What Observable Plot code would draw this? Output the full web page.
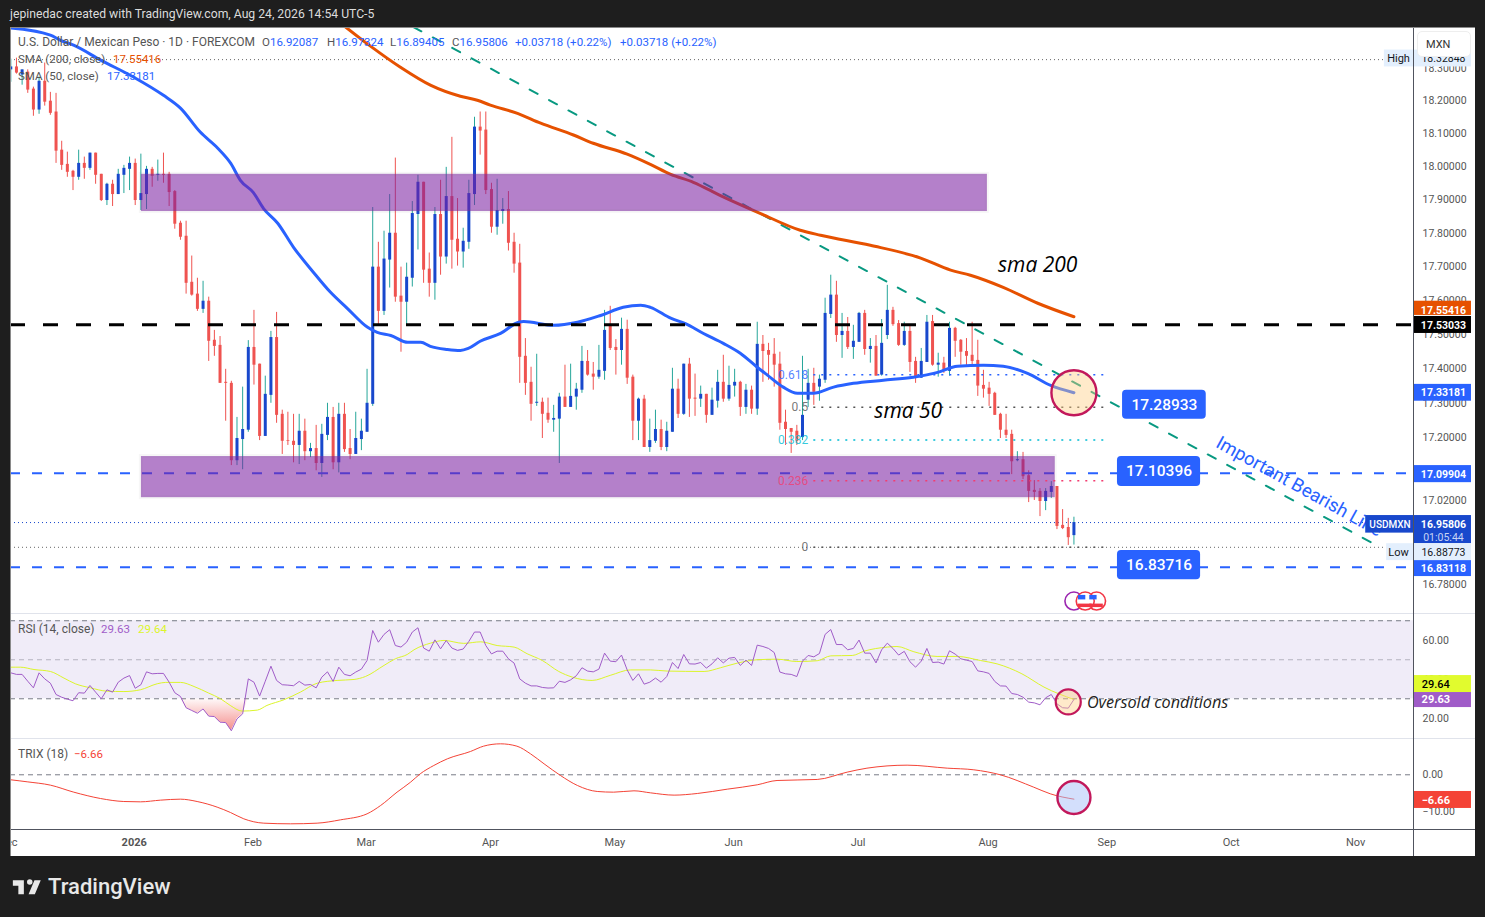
<!DOCTYPE html>
<html><head><meta charset="utf-8">
<script src="https://cdn.jsdelivr.net/npm/d3@7"></script>
<script src="https://cdn.jsdelivr.net/npm/@observablehq/plot@0.6"></script>
<style>
html,body{margin:0;padding:0;background:#1e1e1e;width:1485px;height:917px;overflow:hidden;font-family:Roboto,sans-serif}
#panel{position:absolute;left:10px;top:27px;width:1465px;height:829px;background:#fff}
svg{position:absolute;left:0}
.t{position:absolute;white-space:nowrap;font-size:11.5px;line-height:14px;color:#555}
.v{color:#2962ff}
.line{position:absolute;background:#e0e3eb}
</style></head><body>
<div id="panel"></div>
<div id="host"></div>
<script>
const rising = ("BRBRRBRRRR"+"RRBRBRRBRB"+"BBRBBRBRRR"+"RRRRBRRRRR"+"BBBRRBBRRR"+"RBRBRBBRBR"+"RBBBBRBBRR"+"BBBRRBRBRR"+"BBBRRRBBRR"+"RRRBRRBBRB"+"BBRRBBRRBR"+"RBRBBRBBRB"+"RRBRBBRBBR"+"BRBRRRRRRR"+"BBRBBBRBRB"+"BRBRBBRRBR"+"RBBRBRBRRR"+"RRRRRRRRBR"+"RRRBBRRRB").split("");
const bodyTops = [18.306,18.306,18.297,18.290,18.238,18.262,18.262,18.201,18.168,18.052,
18.009,17.988,18.012,18.012,18.043,18.043,17.979,17.949,17.949,17.979,
17.997,18.012,18.012,17.921,17.994,17.994,17.979,17.979,17.979,17.927,
17.832,17.793,17.656,17.621,17.600,17.600,17.485,17.470,17.362,17.359,
17.199,17.225,17.464,17.464,17.415,17.327,17.493,17.493,17.269,17.193,
17.191,17.220,17.220,17.170,17.170,17.211,17.260,17.260,17.269,17.269,
17.170,17.199,17.220,17.301,17.701,17.701,17.725,17.802,17.802,17.615,
17.671,17.861,17.955,17.955,17.695,17.858,17.858,17.912,17.912,17.784,
17.778,17.921,18.122,18.122,18.113,17.933,17.870,17.873,17.873,17.775,
17.713,17.438,17.362,17.304,17.304,17.272,17.257,17.319,17.319,17.321,
17.342,17.423,17.423,17.386,17.397,17.514,17.529,17.464,17.517,17.517,
17.377,17.313,17.313,17.193,17.225,17.225,17.220,17.342,17.342,17.415,
17.415,17.316,17.327,17.327,17.310,17.362,17.362,17.353,17.362,17.362,
17.339,17.339,17.473,17.473,17.455,17.444,17.415,17.246,17.228,17.220,
17.266,17.359,17.359,17.371,17.564,17.618,17.618,17.511,17.511,17.482,
17.564,17.564,17.467,17.467,17.476,17.573,17.573,17.534,17.511,17.511,
17.423,17.423,17.538,17.540,17.418,17.418,17.520,17.520,17.485,17.452,
17.441,17.426,17.353,17.345,17.330,17.269,17.223,17.211,17.138,17.138,
17.092,17.050,17.047,17.047,17.061,17.061,16.950,16.944,16.95806];
const bodyBottoms = [18.297,18.287,18.281,18.235,18.174,18.174,18.198,18.164,18.049,18.006,
17.985,17.970,17.970,17.997,17.997,17.976,17.900,17.900,17.918,17.918,
17.976,17.994,17.900,17.900,17.918,17.973,17.976,17.976,17.924,17.829,
17.790,17.653,17.618,17.576,17.576,17.482,17.467,17.359,17.359,17.135,
17.135,17.196,17.223,17.412,17.205,17.205,17.324,17.266,17.191,17.191,
17.179,17.179,17.161,17.161,17.127,17.127,17.208,17.129,17.129,17.167,
17.153,17.153,17.196,17.217,17.298,17.570,17.570,17.722,17.612,17.597,
17.597,17.668,17.858,17.692,17.653,17.653,17.731,17.731,17.781,17.746,
17.746,17.775,17.918,18.110,17.930,17.820,17.820,17.867,17.772,17.710,
17.435,17.359,17.298,17.301,17.269,17.252,17.252,17.255,17.289,17.289,
17.319,17.339,17.383,17.377,17.377,17.394,17.461,17.455,17.455,17.374,
17.249,17.249,17.173,17.173,17.191,17.173,17.173,17.217,17.269,17.269,
17.313,17.313,17.313,17.266,17.266,17.307,17.313,17.313,17.351,17.289,
17.289,17.284,17.284,17.452,17.441,17.412,17.243,17.225,17.217,17.191,
17.202,17.310,17.333,17.348,17.368,17.561,17.499,17.499,17.464,17.464,
17.479,17.458,17.458,17.380,17.383,17.499,17.531,17.470,17.470,17.420,
17.377,17.374,17.420,17.412,17.412,17.394,17.394,17.482,17.450,17.438,
17.423,17.351,17.342,17.327,17.266,17.223,17.208,17.132,17.135,17.089,
17.047,17.044,17.018,17.018,17.044,16.947,16.941,16.915,16.92087];
const highs = [18.330,18.333,18.297,18.297,18.244,18.275,18.318,18.228,18.225,18.079,
18.046,17.991,18.052,18.031,18.043,18.043,17.979,17.952,17.961,17.994,
18.006,18.031,18.025,18.040,18.003,18.000,18.022,18.043,17.985,17.930,
17.838,17.838,17.734,17.668,17.659,17.612,17.514,17.496,17.400,17.365,
17.260,17.348,17.484,17.573,17.415,17.380,17.511,17.567,17.281,17.275,
17.269,17.269,17.255,17.185,17.237,17.240,17.301,17.289,17.301,17.301,
17.225,17.275,17.255,17.400,17.879,17.775,17.808,17.918,18.028,17.701,
17.713,17.897,17.976,17.955,17.743,17.879,17.961,18.000,18.091,17.906,
17.817,17.961,18.152,18.168,18.168,17.952,17.964,17.906,17.927,17.802,
17.769,17.490,17.406,17.444,17.316,17.316,17.295,17.330,17.412,17.415,
17.359,17.467,17.455,17.420,17.470,17.573,17.585,17.487,17.550,17.544,
17.383,17.316,17.324,17.255,17.281,17.252,17.246,17.403,17.371,17.415,
17.432,17.386,17.351,17.327,17.345,17.397,17.441,17.409,17.400,17.365,
17.356,17.351,17.538,17.499,17.476,17.490,17.450,17.281,17.228,17.237,
17.438,17.400,17.403,17.383,17.609,17.677,17.659,17.564,17.552,17.529,
17.567,17.573,17.490,17.499,17.546,17.647,17.582,17.543,17.538,17.529,
17.435,17.461,17.558,17.558,17.447,17.435,17.538,17.523,17.487,17.490,
17.538,17.485,17.397,17.362,17.333,17.272,17.269,17.223,17.161,17.159,
17.106,17.078,17.055,17.055,17.075,17.061,16.995,16.970,16.97324];
const lows = [18.259,18.284,18.250,18.225,18.155,18.161,18.186,18.158,18.012,17.991,
17.970,17.930,17.961,17.964,17.991,17.949,17.897,17.885,17.882,17.918,
17.921,17.930,17.885,17.870,17.873,17.940,17.958,17.952,17.882,17.814,
17.781,17.621,17.615,17.570,17.564,17.423,17.438,17.359,17.249,17.121,
17.121,17.109,17.217,17.354,17.193,17.205,17.301,17.243,17.153,17.179,
17.129,17.124,17.135,17.144,17.106,17.087,17.193,17.109,17.100,17.159,
17.138,17.153,17.164,17.217,17.292,17.531,17.558,17.639,17.597,17.450,
17.531,17.642,17.752,17.653,17.612,17.603,17.677,17.710,17.695,17.704,
17.698,17.754,17.885,18.037,17.918,17.802,17.796,17.829,17.749,17.683,
17.359,17.324,17.249,17.292,17.199,17.243,17.217,17.127,17.289,17.289,
17.281,17.330,17.380,17.339,17.371,17.368,17.455,17.383,17.412,17.356,
17.193,17.193,17.173,17.159,17.185,17.164,17.161,17.217,17.257,17.266,
17.260,17.263,17.289,17.243,17.266,17.287,17.304,17.307,17.319,17.263,
17.269,17.269,17.266,17.362,17.368,17.348,17.223,17.179,17.156,17.179,
17.193,17.289,17.295,17.307,17.359,17.549,17.479,17.432,17.458,17.429,
17.479,17.441,17.418,17.380,17.380,17.487,17.526,17.467,17.467,17.391,
17.359,17.374,17.420,17.409,17.377,17.388,17.380,17.435,17.412,17.406,
17.412,17.321,17.316,17.292,17.266,17.199,17.199,17.095,17.132,17.081,
17.015,17.021,16.975,16.992,17.027,16.938,16.938,16.893,16.89405];

const sma50Bars = [0,7,8.8,11.1,15.9,21.7,27,30,33.5,36.6,38.9,40.6,42.9,44.7,47.2,50,53.5,56.5,59.5,63.1,64.8,67.2,70.2,72.5,74.2,77.2,79.5,80.9,83,86.6,89.8,90.7,96,100.2,104.3,108.3,111.4,113.1,116.7,119.3,122.5,126,129,132,133.8,136.6,139.1,141.9,145.5,149,154.3,159.6,163.9,167.4,172,175.5,179.8,183.9,188];
const sma50Vals = [18.426,18.404,18.388,18.373,18.327,18.275,18.219,18.180,18.107,18.058,18.012,17.961,17.924,17.876,17.832,17.760,17.686,17.627,17.579,17.523,17.508,17.499,17.479,17.479,17.467,17.458,17.455,17.461,17.482,17.505,17.538,17.540,17.529,17.538,17.558,17.582,17.588,17.582,17.550,17.534,17.505,17.476,17.447,17.406,17.383,17.348,17.330,17.330,17.348,17.359,17.368,17.377,17.391,17.409,17.412,17.409,17.388,17.353,17.33181];
const sma200Bars = [59.2,63.6,68.9,74.2,79.5,82.5,84.8,89.6,93.7,99.5,103,109,113.1,116.7,120.7,125.5,132.6,139.6,143.2,152,160.9,166.2,169.7,175.5,181.6,188];
const sma200Vals = [18.429,18.370,18.305,18.250,18.216,18.204,18.189,18.164,18.134,18.098,18.073,18.040,18.009,17.979,17.955,17.915,17.861,17.811,17.796,17.766,17.728,17.692,17.677,17.641,17.594,17.55416];

const rsiVals = [43.3,42.5,42.5,39.0,35.6,43.3,40.2,38.0,32.2,30.8,29.8,29.0,33.1,32.9,36.8,33.4,30.0,34.6,33.4,38.5,40.6,41.9,35.4,37.2,43.8,42.8,43.0,43.0,38.5,33.1,31.2,25.4,24.0,22.6,24.8,21.1,20.9,18.0,17.8,13.6,19.7,22.3,40.2,38.5,31.4,39.0,46.7,39.4,37.2,37.0,36.7,38.9,37.0,37.3,35.6,41.1,43.8,38.9,46.2,42.5,41.8,43.7,45.2,49.6,65.0,59.0,63.0,65.4,57.3,56.5,59.0,64.2,66.4,56.0,54.4,60.2,55.6,59.9,56.0,54.8,55.5,59.4,64.2,64.2,57.3,53.0,54.4,
54.4,50.5,48.3,40.2,38.0,36.6,36.6,35.8,35.5,35.6,39.0,38.4,39.7,41.8,45.9,44.2,43.8,45.2,53.4,49.3,49.0,52.4,44.8,39.4,42.8,37.5,38.5,40.6,38.5,41.4,48.6,45.5,52.7,47.9,47.8,48.6,45.7,47.9,51.0,48.4,50.8,51.2,47.1,49.8,47.1,57.5,56.8,55.8,53.7,43.7,42.8,42.5,41.4,49.3,52.2,51.5,53.2,63.0,65.5,57.8,57.8,55.1,55.8,60.1,53.4,53.4,48.4,55.1,58.5,55.8,52.4,54.3,49.0,46.2,49.3,55.8,48.6,48.8,47.8,54.6,52.9,50.5,49.8,49.1,44.3,43.8,43.0,38.9,36.6,
36.5,32.7,32.2,30.8,28.3,27.9,26.9,30.5,32.2,27.4,25.4,25.2,29.63];
const rsiMaBars = [0.1,1.7,4.1,7,9.4,11.4,14.1,17,20,22.9,25.9,27.4,30,32.4,35,37.1,38.8,40.9,43.6,45.3,48.3,51.2,54.2,57.7,60.7,62.7,66,68,70.1,71.3,74.2,76.6,80.1,83.1,86,89,91.3,94,96.9,99.3,102.8,106,109.6,113.1,116.1,122.6,125.5,128.5,132,135.5,139,142.6,145,148.8,150.9,155,156.7,159.7,163.8,167.4,171.5,174.4,178.8,182.7,188];
const rsiMaVals = [46.2,46.2,45.0,44.0,40.6,37.7,35.6,33.9,33.7,34.6,37.7,38.4,38.4,36.3,32.9,30.0,26.6,23.7,24.2,26.6,29.5,33.4,38.0,39.4,39.9,41.4,47.1,50.5,52.7,55.1,58.5,59.9,58.4,59.2,57.3,56.5,53.1,49.6,44.0,41.1,39.4,42.0,44.8,44.8,44.2,44.0,45.9,48.3,50.0,50.3,49.1,49.5,52.0,52.2,54.4,56.5,56.8,54.1,51.7,51.7,49.6,47.9,42.8,36.0,29.64];
const trixBars = [0.06,2.89,7.01,11.14,15.86,19.98,22.93,26.47,30,32.95,36.49,38.84,41.2,44.74,49.45,54.17,58.3,63,65.4,68.3,70.7,72.4,74.8,77.2,81.3,83.6,86.6,89.5,91.9,94.3,97.2,100.2,103.7,106.6,110.2,113.1,117.3,121.4,126.7,132,135.5,142.6,147.9,151.4,158.5,165.6,170.3,175,180.9,183.8,188];
const trixVals = [-1.38,-1.92,-2.83,-4.75,-6.48,-7.30,-7.39,-6.93,-6.66,-7.30,-8.84,-10.30,-12.03,-13.22,-13.40,-13.22,-12.31,-10.67,-8.39,-4.75,-2.01,0.26,2.54,4.36,6.37,7.82,8.46,7.82,5.73,3.0,-0.19,-2.92,-4.56,-4.75,-4.38,-4.93,-5.56,-5.11,-3.93,-2.74,-1.56,-1.28,0.72,1.81,2.63,1.81,1.36,-0.01,-3.39,-5.19,-6.66];

const priceTicks = [18.3,18.2,18.1,18,17.9,17.8,17.7,17.6,17.5,17.4,17.3,17.2,17.02,16.78];
const rsiTicks = [60,40,20];
const trixTicks = [0,-10];
const monthBars = [-0.3,43,63,85,107,128,150,173,194,216,238];
const monthNames = ["Dec","Feb","Mar","Apr","May","Jun","Jul","Aug","Sep","Oct","Nov"];
const yearBar = 22;

const fibLevels = [0.618,0.5,0.382,0.236,0];
const fibPrices = [17.3841,17.28933,17.1945,17.0773,16.88773];
const fibColors = ["#2962ff","#555","#00bcd4","#f23d70","#555"];

const axisTagLabels = ["17.55416","17.53033","17.33181","17.09904"];
const axisTagTops = [17.600,17.555,17.356,17.121];
const axisTagBottoms = [17.558,17.505,17.307,17.072];
const axisTagMids = [17.573,17.528,17.331,17.095];
const axisTagFills = ["#e65100","#000000","#2962ff","#2962ff"];

const calloutLabels = ["17.28933","17.10396","16.83716"];
const calloutStart = [196.6,195.7,195.7];
const calloutEnd = [211.4,210.4,210.4];
const calloutTops = [17.339,17.147,16.879];
const calloutBottoms = [17.255,17.061,16.796];
const calloutMids = [17.295,17.104,16.837];

const zoneStart = [23.1,23.1];
const zoneEnd = [172.7,184.7];
const zoneTops = [17.979,17.147];
const zoneBottoms = [17.867,17.029];

const X0 = -0.053, X1 = 248.05;   // visible bar range of the price area
const axisL = 248.2, axisR = 258.3, axisC = 253.35;  // bar-units across the scale strip

const zip = (a,b) => a.map((d,i)=>({i:d,v:b[i]}));
const candles = rising.map((r,i)=>({i,up:r==="B",top:bodyTops[i],bot:bodyBottoms[i],high:highs[i],low:lows[i]}));
const ups = candles.filter(d=>d.up), downs = candles.filter(d=>!d.up);
const fibs = fibLevels.map((l,k)=>({l:String(l),p:fibPrices[k],c:fibColors[k]}));
const zones = zoneStart.map((s,k)=>({s,e:zoneEnd[k],t:zoneTops[k],b:zoneBottoms[k]}));
const tags = axisTagLabels.map((l,k)=>({l,t:axisTagTops[k],b:axisTagBottoms[k],m:axisTagMids[k],f:axisTagFills[k]}));
const callouts = calloutLabels.map((l,k)=>({l,s:calloutStart[k],e:calloutEnd[k],t:calloutTops[k],b:calloutBottoms[k],m:calloutMids[k]}));

const BLUE="#1848cc", TEAL="#26a69a", RED="#ef5350";
const font = {fontFamily:"Roboto, sans-serif",background:"transparent",overflow:"hidden"};
const tag = (x1,x2,top,bottom,fill)=>Plot.rect([0],{x1:()=>x1,x2:()=>x2,y1:()=>bottom,y2:()=>top,fill});
const fibMark = fibs.map(f=>Plot.ruleY([f.p],{x1:()=>142,x2:()=>194,stroke:f.c,strokeWidth:1.5,strokeDasharray:"2,6"}));
const TICK=10.5;

const price = Plot.plot({
  width:1485,height:613,marginLeft:10,marginRight:72,marginTop:27,marginBottom:0,style:font,
  x:{domain:[X0,X1],axis:null},
  y:{type:"log",domain:[16.7011,18.4276],axis:null},
  marks:[
    Plot.axisY({anchor:"right",ticks:priceTicks,tickFormat:d=>d.toFixed(5),tickSize:0,tickPadding:9,fontSize:TICK,label:null,fill:"#555",dy:-0.5}),
    Plot.ruleY([18.32848],{x1:()=>X0,x2:()=>242.9,stroke:"#666",strokeDasharray:"1,3"}),
    Plot.ruleY([16.95806],{x1:()=>X0,x2:()=>239.6,stroke:BLUE,strokeDasharray:"1,3"}),
    Plot.ruleY([16.88773],{x1:()=>X0,x2:()=>243.3,stroke:"#666",strokeDasharray:"1,3"}),
    Plot.ruleX(ups,{x:"i",y1:"low",y2:"high",stroke:TEAL,strokeWidth:1,clip:true}),
    Plot.ruleX(downs,{x:"i",y1:"low",y2:"high",stroke:RED,strokeWidth:1,clip:true}),
    Plot.ruleX(ups,{x:"i",y1:"bot",y2:"top",stroke:BLUE,strokeWidth:3,clip:true}),
    Plot.ruleX(downs,{x:"i",y1:"bot",y2:"top",stroke:RED,strokeWidth:3,clip:true}),
    Plot.ruleY([17.09904,16.83118],{stroke:"#2962ff",strokeWidth:2,strokeDasharray:"10,12"}),
    Plot.line([{i:71.2,v:18.429},{i:241,v:16.898}],{x:"i",y:"v",stroke:"#089981",strokeWidth:2,strokeDasharray:"9,13",clip:true}),
    Plot.line(zip(sma200Bars,sma200Vals),{x:"i",y:"v",stroke:"#e65100",strokeWidth:3,curve:"monotone-x",clip:true}),
    Plot.line(zip(sma50Bars,sma50Vals),{x:"i",y:"v",stroke:"#2962ff",strokeWidth:3,curve:"monotone-x",clip:true}),
    Plot.rect(zones,{x1:"s",x2:"e",y1:"b",y2:"t",fill:"#7b1fa2",fillOpacity:0.57,stroke:"#777",strokeOpacity:0.06,strokeWidth:4}),
    ...fibMark,
    Plot.text(fibs,{x:()=>141,y:"p",text:"l",textAnchor:"end",fill:"c",fontSize:12,fillOpacity:0.8}),
    Plot.ruleY([17.53033],{stroke:"#000",strokeWidth:3,strokeDasharray:"15,18"}),
    Plot.dot([{i:188,v:17.33181}],{x:"i",y:"v",r:22.5,fill:"#ffcc80",fillOpacity:0.42,stroke:"#c2185b",strokeWidth:2.4}),
    Plot.text(["sma 200"],{x:()=>181.6,y:()=>17.707,text:d=>d,fontSize:21,fontStyle:"italic",fill:"#000",fontFamily:"Open Sans"}),
    Plot.text(["sma 50"],{x:()=>158.7,y:()=>17.278,text:d=>d,fontSize:21,fontStyle:"italic",fill:"#000",fontFamily:"Open Sans"}),
    Plot.rect(callouts,{x1:"s",x2:"e",y1:"b",y2:"t",fill:"#2962ff",rx:4}),
    Plot.text(callouts,{x:d=>(d.s+d.e)/2,y:"m",text:"l",fill:"#fff",fontSize:15.5,fontWeight:500}),
    Plot.text(["Important Bearish Line"],{x:()=>213.4,y:()=>17.191,text:d=>d,rotate:29,textAnchor:"start",fill:"#2962ff",fontSize:18.5}),
    // event icons
    Plot.dot([188],{x:d=>d,y:()=>16.736,r:9,fill:"#fff",stroke:"#9c27b0",strokeWidth:1.6}),
    Plot.dot([192,190],{x:d=>d,y:()=>16.736,r:9,fill:"#fff",stroke:"#f23645",strokeWidth:1.6}),
    Plot.ruleY([192,190],{y:()=>16.724,x1:d=>d-1.2,x2:d=>d+1.2,stroke:"#f23645",strokeWidth:3.5}),
    Plot.ruleY([192,190],{y:()=>16.747,x1:d=>d-1.2,x2:d=>d+0.1,stroke:"#2962ff",strokeWidth:4.5}),
    // scale strip tags
    tag(242.9,axisR,18.358,18.306,"#e3effd"),
    Plot.text(["High"],{x:()=>245.4,y:()=>18.333,text:d=>d,fill:"#131722",fontSize:11}),
    Plot.text(["18.32848"],{x:()=>axisC,y:()=>18.333,text:d=>d,fill:"#131722",fontSize:TICK}),
    Plot.rect(tags,{x1:()=>axisL,x2:()=>axisR,y1:"b",y2:"t",fill:"f"}),
    Plot.text(tags,{x:()=>axisC,y:"m",text:"l",fill:"#fff",fontSize:TICK,fontWeight:700}),
    tag(239.6,axisL,16.978,16.928,"#1848cc"),
    Plot.text(["USDMXN"],{x:()=>243.9,y:()=>16.953,text:d=>d,fill:"#fff",fontSize:10,fontWeight:500}),
    tag(axisL,axisR,16.978,16.898,"#1848cc"),
    Plot.text(["16.95806"],{x:()=>axisC,y:()=>16.953,text:d=>d,fill:"#fff",fontSize:TICK,fontWeight:700}),
    Plot.text(["01:05:44"],{x:()=>axisC,y:()=>16.916,text:d=>d,fill:"#c8d4f5",fontSize:TICK}),
    tag(243.3,axisR,16.898,16.85,"#e3effd"),
    Plot.text(["Low"],{x:()=>245.4,y:()=>16.873,text:d=>d,fill:"#131722",fontSize:11}),
    Plot.text(["16.88773"],{x:()=>axisC,y:()=>16.873,text:d=>d,fill:"#131722",fontSize:TICK}),
    tag(axisL,axisR,16.85,16.805,"#2962ff"),
    Plot.text(["16.83118"],{x:()=>axisC,y:()=>16.827,text:d=>d,fill:"#fff",fontSize:TICK,fontWeight:700})
  ]
});
price.style.top="0px";

const rsi = Plot.plot({
  width:1485,height:126,marginLeft:10,marginRight:72,marginTop:1,marginBottom:1,style:font,
  x:{domain:[X0,X1],axis:null},
  y:{domain:[9.64,73.2],axis:null},
  marks:[
    Plot.rect([0],{x1:()=>X0,x2:()=>X1,y1:()=>30,y2:()=>70,fill:"#7e57c2",fillOpacity:0.115}),
    Plot.axisY({anchor:"right",ticks:rsiTicks,tickFormat:d=>d.toFixed(2),tickSize:0,tickPadding:9,fontSize:TICK,label:null,fill:"#555"}),
    Plot.ruleY([70,30],{stroke:"#787b86",strokeDasharray:"5,4"}),
    Plot.ruleY([50],{stroke:"#787b86",strokeOpacity:0.5,strokeDasharray:"5,4"}),
    Plot.areaY(zip(rsiVals.map((_,k)=>k),rsiVals).filter(d=>d.i>=30&&d.i<=42),{x:"i",y1:()=>30,y2:d=>Math.min(d.v,30),fill:"url(#oversoldFill)"}),
    Plot.line(zip(rsiMaBars,rsiMaVals),{x:"i",y:"v",stroke:"#dcf52b",strokeWidth:1,curve:"monotone-x"}),
    Plot.line(zip(rsiVals.map((_,k)=>k),rsiVals),{x:"i",y:"v",stroke:"#a05cc8",strokeWidth:1}),
    Plot.dot([{i:187,v:28.4}],{x:"i",y:"v",r:12.5,fill:"#ffcc80",fillOpacity:0.42,stroke:"#c2185b",strokeWidth:2.2}),
    Plot.text(["Oversold conditions"],{x:()=>190.3,y:()=>28.1,text:d=>d,textAnchor:"start",fontSize:16.2,fontStyle:"italic",fill:"#222",fontFamily:"Open Sans"}),
    tag(axisL,axisR,41.9,33.2,"#e1fb2e"),
    Plot.text(["29.64"],{x:()=>axisL+3.8,y:()=>37.3,text:d=>d,fill:"#000",fontSize:11,fontWeight:500}),
    tag(axisL,axisR,33.2,25.5,"#a05cc8"),
    Plot.text(["29.63"],{x:()=>axisL+3.8,y:()=>29.4,text:d=>d,fill:"#fff",fontSize:11,fontWeight:700})
  ]
});
rsi.style.top="613px";
d3.select(rsi).append("defs").html('<linearGradient id="oversoldFill" x1="0" y1="0" x2="0" y2="1"><stop offset="0" stop-color="#ef5350" stop-opacity="0.03"/><stop offset="1" stop-color="#ef5350" stop-opacity="0.65"/></linearGradient>');

const trix = Plot.plot({
  width:1485,height:118,marginLeft:10,marginRight:72,marginTop:1,marginBottom:27,style:font,
  x:{domain:[X0,X1],axis:null},
  y:{domain:[-14.95,9.64],axis:null},
  marks:[
    Plot.axisY({anchor:"right",ticks:trixTicks,tickFormat:d=>d<0?"\u2212"+Math.abs(d).toFixed(2):d.toFixed(2),tickSize:0,tickPadding:9,fontSize:TICK,label:null,fill:"#555"}),
    Plot.ruleY([0],{stroke:"#787b86",strokeDasharray:"5,4"}),
    Plot.line(zip(trixBars,trixVals),{x:"i",y:"v",stroke:"#f44336",strokeWidth:1,curve:"monotone-x"}),
    Plot.dot([{i:188,v:-6.2}],{x:"i",y:"v",r:16.5,fill:"#a8c0fa",fillOpacity:0.5,stroke:"#c2185b",strokeWidth:2.4}),
    tag(axisL,axisR,-4.56,-9.2,"#f44336"),
    Plot.text(["\u22126.66"],{x:()=>axisL+3.8,y:()=>-6.9,text:d=>d,fill:"#fff",fontSize:11,fontWeight:700}),
    Plot.text(monthBars.map((b,k)=>({b,n:monthNames[k]})),{x:"b",text:"n",frameAnchor:"bottom",dy:16,dx:-1,fontSize:11,fill:"#555"}),
    Plot.text(["2026"],{x:()=>yearBar,text:d=>d,frameAnchor:"bottom",dy:16,dx:-1,fontSize:11,fontWeight:700,fill:"#555"})
  ]
});
trix.style.top="738px";

const host=document.getElementById("host");
host.append(price,rsi,trix);

const html = `
<div class="line" style="left:10px;top:613px;width:1465px;height:1px"></div>
<div class="line" style="left:10px;top:738px;width:1465px;height:1px"></div>
<div class="line" style="left:10px;top:829px;width:1465px;height:1px;background:#50535e"></div>
<div class="line" style="left:1413px;top:27px;width:1px;height:829px;background:#50535e"></div>
<div style="position:absolute;left:0;top:0;width:10px;height:917px;background:#1e1e1e"></div>
<div style="position:absolute;left:10px;top:27px;width:1px;height:829px;background:#8a8a8a"></div>
<div style="position:absolute;left:10px;top:27px;width:1465px;height:1px;background:#8a8a8a"></div>
<div style="position:absolute;left:1475px;top:0;width:10px;height:917px;background:#1e1e1e"></div>
<div class="t" style="left:10px;top:7px;color:#dcdcdc;font-size:12.2px">jepinedac created with TradingView.com, Aug 24, 2026 14:54 UTC-5</div>
<div class="t" style="left:18px;top:35px;font-size:12px">U.S. Dollar / Mexican Peso · 1D · FOREXCOM</div>
<div class="t" style="left:262px;top:35px">O<span class="v">16.92087</span></div>
<div class="t" style="left:327px;top:35px">H<span class="v">16.97324</span></div>
<div class="t" style="left:390px;top:35px">L<span class="v">16.89405</span></div>
<div class="t" style="left:452px;top:35px">C<span class="v">16.95806</span></div>
<div class="t v" style="left:515px;top:35px">+0.03718 (+0.22%)</div>
<div class="t v" style="left:620px;top:35px">+0.03718 (+0.22%)</div>
<div class="t" style="left:18px;top:52px">SMA (200, close)</div>
<div class="t" style="left:113px;top:52px;color:#e65100">17.55416</div>
<div class="t" style="left:18px;top:69px">SMA (50, close)</div>
<div class="t v" style="left:107px;top:69px">17.33181</div>
<div class="t" style="left:18px;top:622px;font-size:12px">RSI (14, close)</div>
<div class="t" style="left:101px;top:622px;color:#a05cc8">29.63</div>
<div class="t" style="left:138px;top:622px;color:#dcf52b">29.64</div>
<div class="t" style="left:18px;top:747px;font-size:12px">TRIX (18)</div>
<div class="t" style="left:74px;top:747px;color:#f44336">−6.66</div>
<div style="position:absolute;left:1417px;top:31px;width:54px;height:26px;background:#fff;border:1px solid #eee;box-sizing:border-box;border-radius:5px;font-size:11px;line-height:26px;padding-left:8px;color:#333">MXN</div>
<svg style="top:877px;left:12px" width="30" height="22" viewBox="0 0 36 28"><path fill="#e8e8e8" d="M14 22H7V11H0V4h14v18zm14 0h-8l7.5-18h8L28 22zm-6.5-12a3.5 3.5 0 1 0 0-7 3.5 3.5 0 0 0 0 7z"/></svg>
<div class="t" style="left:48px;top:875px;font-size:22px;line-height:24px;font-weight:500;color:#e8e8e8">TradingView</div>`;
host.insertAdjacentHTML("beforeend",html);
</script>
</body></html>
